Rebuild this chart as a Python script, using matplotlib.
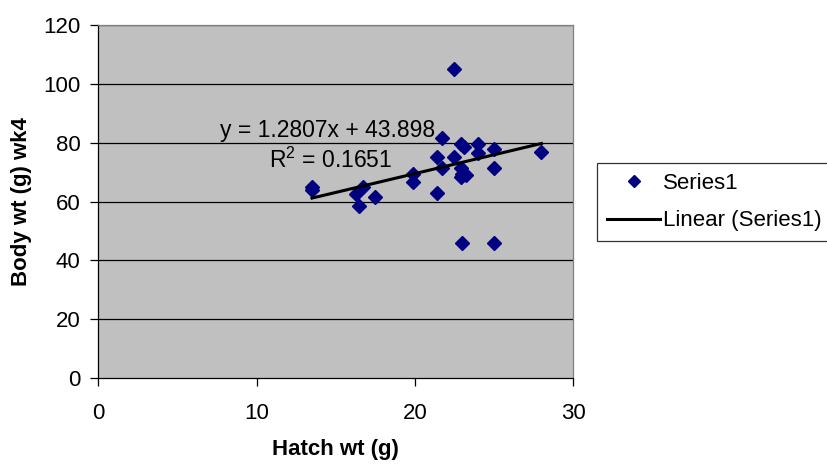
import numpy as np
import matplotlib.pyplot as plt

plt.rcParams['font.family'] = ['Liberation Sans', 'DejaVu Sans']

# Hatch weight (g) vs body weight at week 4 (g)
hatch_wt = [13.5, 13.5, 16.3, 16.7, 16.5, 17.5, 19.9, 19.9, 21.4, 21.4,
            21.7, 21.7, 22.5, 22.5, 22.9, 23.1, 23.0, 23.2, 22.9, 22.9,
            24.0, 24.0, 25.0, 25.0, 28.0, 23.0, 25.0]
body_wt = [65.0, 64.0, 62.5, 65.0, 58.5, 61.5, 69.5, 66.5, 75.0, 63.0,
           81.5, 71.5, 105.0, 75.0, 79.5, 78.5, 69.5, 69.0, 71.5, 68.5,
           79.5, 76.5, 78.0, 71.5, 77.0, 46.0, 46.0]

# trendline as printed on the chart
slope = 1.2807
intercept = 43.898
r2 = 0.1651

x_ticks = [0, 10, 20, 30]
y_ticks = [0, 20, 40, 60, 80, 100, 120]

fig = plt.figure(figsize=(8.27, 4.65), dpi=100)
ax = fig.add_axes([0.119, 0.187, 0.574, 0.759])
ax.set_facecolor('#C0C0C0')

# gridlines
for yv in y_ticks[1:]:
    ax.axhline(yv, color='black', linewidth=0.9, zorder=1)

ax.plot(hatch_wt, body_wt, linestyle='none', marker='D', markersize=7.5,
        color='#000080', label='Series1', zorder=3)

xs = np.array([min(hatch_wt), max(hatch_wt)])
ax.plot(xs, slope * xs + intercept, color='black', linewidth=2.2,
        label='Linear (Series1)', zorder=4)

ax.text(7.7, 84, 'y = %.4fx + %.3f' % (slope, intercept), fontsize=16.5,
        ha='left', va='center', zorder=5)
ax.text(10.8, 74, '$\\mathregular{R^2}$ = %.4f' % r2, fontsize=16.5,
        ha='left', va='center', zorder=5)

ax.set_xlim(0, 30)
ax.set_ylim(0, 120)
ax.set_xticks(x_ticks)
ax.set_yticks(y_ticks)
ax.tick_params(labelsize=16, direction='out', length=6, width=0.9,
               color='black', pad=7)
ax.tick_params(axis='x', pad=12)
for side in ['left', 'bottom']:
    ax.spines[side].set_color('black')
    ax.spines[side].set_linewidth(0.9)
for side in ['top', 'right']:
    ax.spines[side].set_color('#808080')
    ax.spines[side].set_linewidth(0.9)

ax.set_xlabel('Hatch wt (g)', fontsize=16, fontweight='bold', labelpad=11)
ax.set_ylabel('Body wt (g) wk4', fontsize=16, fontweight='bold', labelpad=8)

leg = fig.legend(loc='upper left', bbox_to_anchor=(0.722, 0.65),
                 fontsize=16, frameon=True, fancybox=False, edgecolor='black',
                 handlelength=2.4, handletextpad=0.1, borderpad=0.45,
                 labelspacing=0.75, borderaxespad=0, markerscale=0.85)
leg.get_frame().set_linewidth(0.9)

fig.savefig('out.png', dpi=100)
